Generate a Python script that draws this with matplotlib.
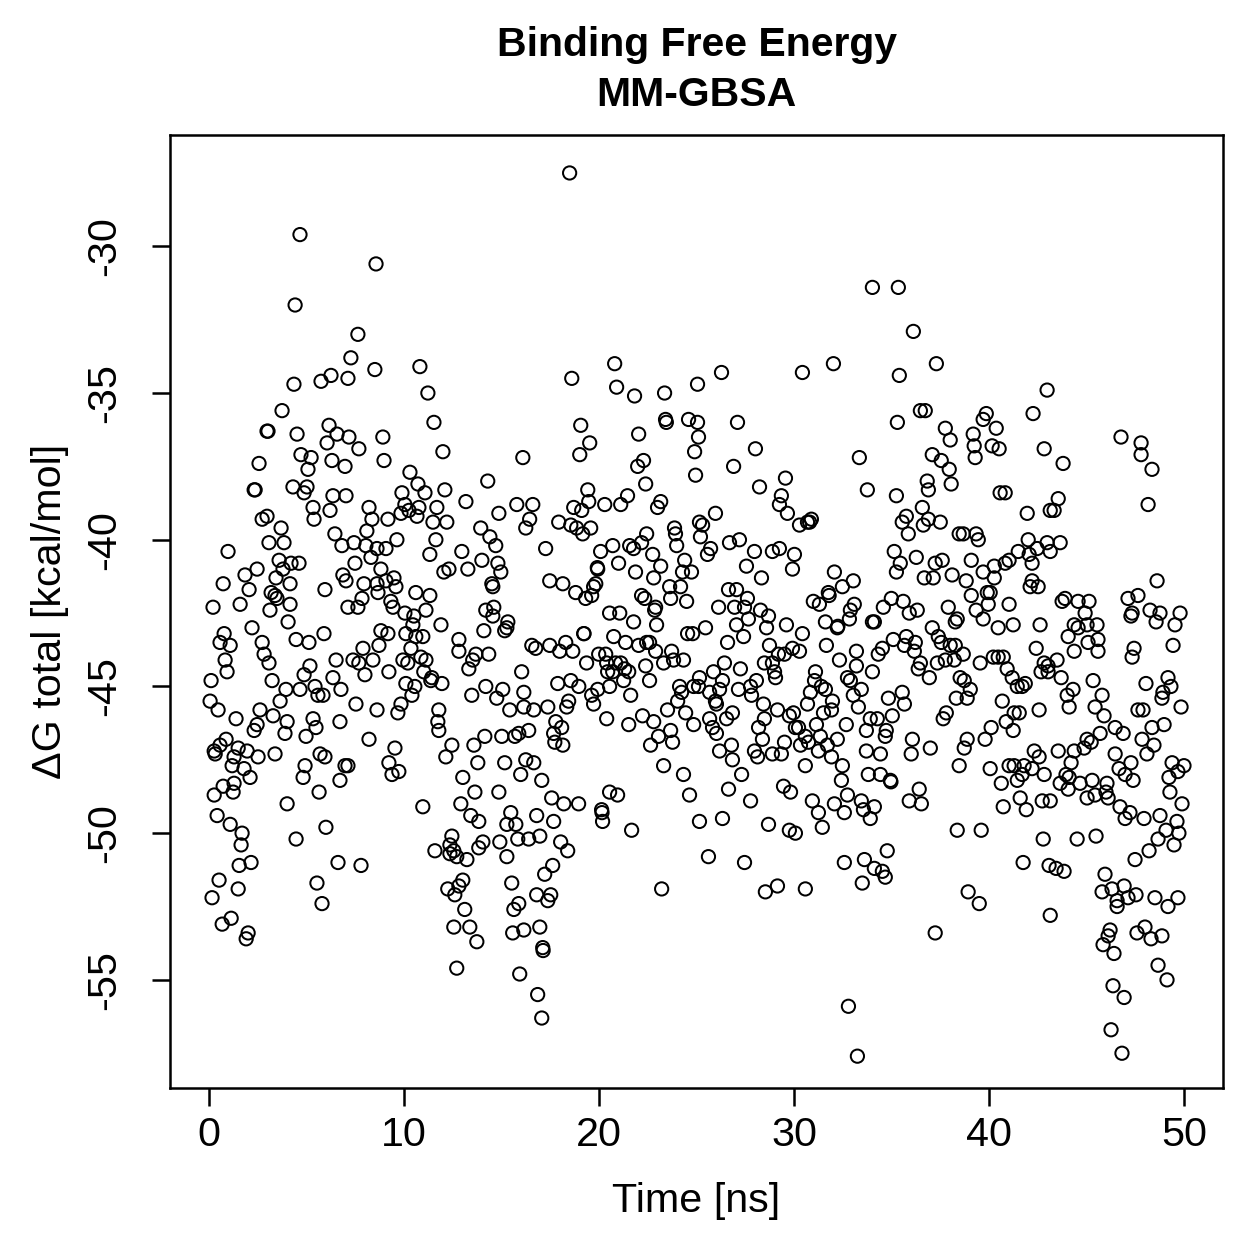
import sys
import matplotlib
matplotlib.use("Agg")
import matplotlib.pyplot as plt

plt.rcParams['font.family'] = ['Liberation Sans', 'DejaVu Sans']
plt.rcParams['axes.unicode_minus'] = False

# ---- data (time in ns, dG in kcal/mol), grouped by region ----
t_a_lo = [0.77,0.56,1.08,0.82,0.92,0.10,0.05,0.46,1.38,2.20,
          2.72,2.82,3.07,3.23,3.94,3.64,4.05,4.46,5.12,5.89,
          5.17,4.87,4.66,5.43,5.58,5.84,6.51,6.35,6.76,6.71,
          2.61,3.28,2.46,2.31,4.00,3.89,4.97,5.33,5.48,0.87,
          0.56,0.26,0.31,1.49,1.95,1.28,1.18,1.79,2.10,2.51,
          3.38,5.69,5.94,4.92,4.82,6.97,6.71,5.64,4.00,1.28,
          0.72,1.23,0.26,0.41,1.08,1.69,1.64,4.46,5.99,6.61,
          2.15,1.54,0.51,0.15,1.49,5.53,5.79,1.13,0.67,2.00,
          1.90]
g_a_lo = [-43.2,-43.5,-43.6,-44.1,-44.5,-44.8,-45.5,-45.8,-46.1,-43.0,
          -43.5,-43.9,-44.2,-44.8,-45.1,-45.5,-42.8,-43.4,-43.5,-43.2,
          -44.3,-44.6,-45.1,-45.0,-45.3,-45.3,-44.1,-44.7,-45.1,-46.2,
          -45.8,-46.0,-46.3,-46.5,-46.2,-46.6,-46.7,-46.1,-46.4,-46.8,
          -47.0,-47.2,-47.3,-47.1,-47.2,-47.4,-47.7,-47.8,-48.1,-47.4,
          -47.3,-47.3,-47.4,-47.7,-48.1,-47.7,-48.2,-48.6,-49.0,-48.3,
          -48.4,-48.6,-48.7,-49.4,-49.7,-50.0,-50.4,-50.2,-49.8,-51.0,
          -51.0,-51.1,-51.6,-52.2,-51.9,-51.7,-52.4,-52.9,-53.1,-53.4,
          -53.6]

t_a_hi = [4.66,4.41,4.35,5.74,6.25,7.12,7.27,3.74,6.15,2.97,
          3.02,4.51,6.56,6.05,7.17,2.56,4.71,5.23,6.30,5.07,
          6.97,2.36,2.31,4.30,5.02,4.87,6.35,7.02,5.33,6.20,
          2.97,2.72,5.38,3.69,6.45,6.81,3.84,3.07,0.97,3.59,
          4.61,4.20,2.46,3.79,1.84,3.43,6.86,7.02,0.72,2.05,
          4.15,5.94,3.18,3.48,3.38,4.15,1.59,0.20,3.12,7.12]
g_a_hi = [-29.6,-32.0,-34.7,-34.6,-34.4,-34.5,-33.8,-35.6,-36.1,-36.3,
          -36.3,-36.4,-36.4,-36.7,-36.5,-37.4,-37.1,-37.2,-37.3,-37.6,
          -37.5,-38.3,-38.3,-38.2,-38.2,-38.4,-38.5,-38.5,-38.9,-39.0,
          -39.2,-39.3,-39.3,-39.6,-39.8,-40.2,-40.1,-40.1,-40.4,-40.7,
          -40.8,-40.8,-41.0,-41.0,-41.2,-41.3,-41.2,-41.4,-41.5,-41.7,
          -41.5,-41.7,-41.8,-42.0,-41.9,-42.2,-42.2,-42.3,-42.4,-42.3]

t_b_hi = [8.56,7.63,8.50,10.81,11.22,11.53,11.99,7.68,8.91,8.97,
          16.09,10.30,10.71,11.07,9.89,12.09,14.29,13.17,15.78,14.86,
          8.20,8.35,9.17,10.04,9.84,10.25,10.76,10.66,11.68,11.48,
          12.19,13.93,14.40,14.70,16.24,8.09,7.43,8.04,8.61,9.07,
          9.63,11.63,11.32,12.96,13.99,13.27,14.81,14.96,12.30,12.04,
          8.30,7.48,8.81,7.94,8.61,9.07,9.48,9.58,8.66,7.84,
          10.60,11.32,14.50,14.55,9.32,9.43,7.63,11.12,10.04,14.19,
          14.60]
g_b_hi = [-30.6,-33.0,-34.2,-34.1,-35.0,-36.0,-37.0,-36.9,-36.5,-37.3,
          -37.2,-37.7,-38.1,-38.4,-38.4,-38.3,-38.0,-38.7,-38.8,-39.1,
          -38.9,-39.3,-39.3,-38.8,-39.1,-39.0,-38.9,-39.2,-38.9,-39.4,
          -39.4,-39.6,-39.9,-40.2,-39.6,-39.7,-40.1,-40.2,-40.3,-40.3,
          -40.0,-40.0,-40.5,-40.4,-40.7,-41.0,-40.8,-41.1,-41.0,-41.1,
          -40.6,-40.8,-41.0,-41.5,-41.5,-41.4,-41.3,-41.6,-41.8,-42.0,
          -41.8,-41.9,-41.5,-41.6,-42.1,-42.3,-42.3,-42.4,-42.5,-42.4,
          -42.3]

t_b_lo = [8.81,9.17,10.09,10.60,10.96,10.45,10.50,11.89,12.81,12.81,
          13.32,13.52,13.68,14.34,14.09,14.55,15.16,15.32,15.27,7.89,
          7.38,8.40,8.71,7.68,7.99,9.22,9.94,10.19,10.35,10.86,
          11.12,11.01,11.42,11.37,11.94,10.09,10.55,10.40,9.84,9.68,
          7.53,8.61,11.78,11.73,11.78,12.45,12.14,13.47,14.19,14.75,
          15.06,15.42,16.03,16.14,16.14,8.20,9.53,9.22,9.38,9.73,
          7.12,13.58,14.14,13.78,15.01,15.68,15.88,15.16,16.24,15.98,
          13.01,13.63,14.86,10.96,12.91,13.42,13.83,15.47,15.27,15.73,
          12.45,12.35,12.55,12.35,12.70,13.22,11.58,14.04,13.83,14.91,
          15.27,15.83,7.79,13.01,12.81,12.24,12.60,15.52,15.88,15.63,
          13.11,12.55,13.37,13.73,15.57,16.14,12.70,15.93]
g_b_lo = [-43.1,-43.2,-43.2,-43.3,-43.3,-42.9,-42.6,-42.9,-43.4,-43.8,
          -44.4,-44.1,-43.9,-43.9,-43.1,-42.6,-43.1,-42.8,-43.0,-43.7,
          -44.1,-44.1,-43.6,-44.2,-44.6,-44.5,-44.1,-44.2,-43.7,-44.0,
          -44.1,-44.5,-44.7,-44.8,-44.9,-44.9,-45.0,-45.3,-45.6,-45.9,
          -45.6,-45.8,-45.8,-46.2,-46.5,-47.0,-47.4,-45.3,-45.0,-45.4,
          -45.1,-45.8,-44.5,-45.2,-45.7,-46.8,-47.1,-47.6,-48.0,-47.9,
          -47.7,-47.0,-46.7,-47.6,-46.7,-46.7,-46.6,-47.6,-47.5,-48.0,
          -48.1,-48.6,-48.6,-49.1,-49.0,-49.4,-49.6,-49.3,-49.7,-49.7,
          -50.1,-50.4,-50.6,-50.7,-50.8,-50.9,-50.6,-50.3,-50.5,-50.3,
          -50.8,-50.2,-51.1,-51.6,-51.8,-51.9,-52.1,-51.7,-52.4,-52.6,
          -52.6,-53.2,-53.2,-53.7,-53.4,-53.3,-54.6,-54.8]

t_c_hi = [18.49,20.80,18.60,20.90,21.82,23.36,25.05,19.06,19.52,19.01,
          22.03,22.28,21.98,22.39,23.41,23.45,24.59,25.05,25.10,24.90,
          24.95,19.42,19.47,18.70,19.11,20.29,21.11,21.46,23.16,23.00,
          16.60,16.44,17.93,18.55,18.85,19.16,19.57,17.26,20.08,20.70,
          21.57,21.77,22.18,22.44,23.87,23.92,23.98,25.15,25.20,19.93,
          19.91,21.00,21.87,22.75,23.16,22.80,24.39,24.28,24.74,17.47,
          18.14,18.80,19.31,19.72,19.83,19.62,22.18,22.34,22.90,23.62,
          24.18,23.67,24.49,20.54,21.06]
g_c_hi = [-27.5,-34.0,-34.5,-34.8,-35.1,-35.0,-34.7,-36.1,-36.7,-37.1,
          -36.4,-37.3,-37.5,-38.1,-35.9,-36.0,-35.9,-36.0,-36.5,-37.0,
          -37.8,-38.3,-38.7,-38.9,-39.0,-38.8,-38.8,-38.5,-38.7,-38.9,
          -38.8,-39.3,-39.4,-39.5,-39.6,-39.8,-39.6,-40.3,-40.4,-40.2,
          -40.2,-40.3,-40.1,-39.8,-39.6,-39.8,-40.2,-39.4,-39.9,-41.0,
          -40.95,-40.8,-41.1,-40.5,-40.9,-41.3,-40.7,-41.1,-41.1,-41.4,
          -41.5,-41.8,-42.0,-41.6,-41.5,-41.9,-41.9,-42.0,-42.3,-41.6,
          -41.6,-42.0,-42.1,-42.5,-42.5]

t_c_lo = [21.77,22.95,22.85,19.21,19.23,24.54,24.80,16.55,16.75,17.47,
          17.98,18.29,18.65,19.36,19.98,20.34,20.75,21.36,22.03,22.44,
          22.59,22.90,23.31,23.72,23.82,24.33,20.39,20.44,20.85,21.11,
          20.70,21.31,21.52,21.26,22.39,22.59,17.88,18.55,18.96,19.93,
          20.54,19.62,19.72,21.62,24.13,24.23,24.03,24.85,25.15,16.65,
          17.37,18.34,18.44,17.78,18.08,17.67,17.73,18.14,16.39,20.39,
          21.52,22.23,22.80,23.51,24.44,24.85,22.64,23.05,23.67,23.77,
          23.31,24.33,24.64,25.15,16.65,17.06,17.57,18.19,18.95,20.54,
          20.95,20.13,20.18,20.15,21.67,16.80,17.67,16.96,16.39,18.03,
          18.39,17.62,17.21,16.80,17.52,17.37,16.96,17.11,17.13,16.85,
          17.06,23.21]
g_c_lo = [-42.8,-42.9,-42.4,-43.2,-43.2,-43.2,-43.2,-43.6,-43.7,-43.6,
          -43.8,-43.5,-43.8,-44.2,-43.9,-43.9,-43.3,-43.5,-43.6,-43.5,
          -43.5,-43.8,-44.2,-43.8,-44.1,-44.1,-44.2,-44.5,-44.2,-44.2,
          -44.5,-44.4,-44.5,-44.8,-44.3,-44.8,-44.9,-44.8,-45.0,-45.1,
          -45.0,-45.3,-45.6,-45.3,-45.0,-45.2,-45.5,-45.0,-44.7,-45.8,
          -45.7,-45.7,-45.5,-46.2,-46.4,-46.6,-46.9,-47.0,-46.5,-46.1,
          -46.3,-46.0,-46.2,-45.8,-45.9,-46.3,-47.0,-46.7,-46.5,-46.9,
          -47.7,-48.0,-48.7,-49.6,-47.6,-48.2,-48.8,-49.0,-49.0,-48.6,
          -48.7,-49.2,-49.6,-49.3,-49.9,-49.4,-49.6,-50.1,-50.2,-50.3,
          -50.6,-51.1,-51.4,-52.1,-52.1,-52.3,-53.2,-53.9,-54.0,-55.5,
          -56.3,-51.9]

t_d_hi = [34.02,26.28,30.43,32.02,27.10,28.02,26.90,33.35,28.23,29.56,
          33.76,29.35,29.25,29.66,25.97,25.31,30.28,30.69,30.89,30.80,
          26.69,27.20,27.97,28.89,29.25,30.02,29.92,25.72,25.56,27.56,
          28.33,32.07,33.04,32.48,26.64,27.05,27.61,31.76,31.80,30.99,
          31.30,26.13,26.95,27.46,28.28,33.09,32.89]
g_d_hi = [-31.4,-34.3,-34.3,-34.0,-36.0,-36.9,-37.5,-37.2,-38.2,-37.9,
          -38.3,-38.5,-38.8,-39.1,-39.1,-39.5,-39.5,-39.4,-39.3,-39.4,
          -40.1,-40.0,-40.4,-40.4,-40.3,-40.5,-41.0,-40.3,-40.5,-40.9,
          -41.3,-41.1,-41.4,-41.6,-41.7,-41.7,-42.0,-41.8,-41.9,-42.1,
          -42.2,-42.3,-42.3,-42.3,-42.4,-42.2,-42.4]

t_d_lo = [25.46,26.59,27.05,27.41,27.66,28.59,28.69,29.61,30.43,31.61,
          32.22,32.25,32.84,34.02,31.66,32.33,33.20,33.20,34.02,28.74,
          29.20,29.51,29.92,30.28,27.25,28.48,28.89,29.00,29.05,26.43,
          25.87,25.10,25.67,26.18,26.33,25.97,26.02,27.15,27.77,27.82,
          28.07,28.43,29.15,28.48,29.76,29.97,30.23,30.69,30.84,31.10,
          31.05,31.40,31.61,31.97,31.92,31.51,31.15,30.07,30.58,28.18,
          28.38,29.51,29.35,28.89,27.97,28.13,30.33,30.74,31.35,31.71,
          31.25,31.92,32.22,32.68,32.74,32.89,33.04,33.30,33.45,33.71,
          33.91,33.71,33.81,32.48,32.43,32.74,32.58,32.07,33.45,33.56,
          33.91,34.12,25.67,25.82,26.02,26.54,26.84,26.18,26.79,26.84,
          27.31,26.64,27.77,29.46,29.82,30.58,30.94,31.25,31.45,28.69,
          29.76,30.07,26.33,25.61,27.46,28.53,29.15,30.58,32.58,33.61,
          34.12,33.50,32.79,33.25]
g_d_lo = [-43.0,-43.5,-42.9,-43.3,-42.7,-43.0,-42.6,-42.9,-43.2,-42.8,
          -43.0,-42.95,-42.7,-42.8,-43.6,-44.1,-43.8,-44.3,-44.5,-43.6,
          -43.9,-43.9,-43.7,-43.8,-44.4,-44.2,-44.2,-44.5,-44.7,-44.2,
          -44.5,-45.0,-45.2,-45.1,-44.8,-45.5,-45.6,-45.1,-45.0,-45.3,
          -44.8,-45.6,-45.8,-46.1,-46.0,-45.9,-46.4,-45.6,-45.2,-44.5,
          -44.8,-45.0,-45.1,-45.5,-45.8,-45.9,-46.3,-46.4,-46.7,-46.4,
          -46.8,-46.9,-47.3,-47.3,-47.2,-47.4,-47.0,-46.9,-46.7,-47.0,
          -47.2,-47.4,-46.8,-46.3,-44.7,-44.8,-45.3,-45.7,-45.1,-46.5,
          -46.1,-47.2,-48.0,-47.7,-48.2,-48.7,-49.3,-49.0,-48.9,-49.2,
          -49.5,-49.1,-46.1,-46.4,-46.6,-46.1,-45.9,-47.2,-47.0,-47.5,
          -48.0,-48.5,-48.9,-48.4,-48.6,-47.7,-48.9,-49.3,-49.8,-49.7,
          -49.9,-50.0,-49.5,-50.8,-51.0,-52.0,-51.8,-51.9,-51.0,-50.9,
          -51.2,-51.7,-55.9,-57.6]

t_e_hi = [35.35,36.12,37.30,35.40,42.98,36.48,36.73,42.26,35.30,39.86,
          39.70,40.37,37.76,38.01,39.19,39.24,39.29,40.16,40.52,42.83,
          37.09,37.55,37.96,38.06,36.83,36.89,35.25,36.58,35.76,35.55,
          35.86,36.89,36.63,37.50,38.47,38.68,39.34,39.45,40.57,40.83,
          41.96,43.14,35.14,35.45,35.25,36.27,37.24,37.60,36.68,37.14,
          38.11,39.09,38.83,39.70,40.27,40.27,40.83,41.03,41.50,42.01,
          42.06,42.21,42.47,42.98,43.14,42.21,42.11,42.52,39.09,39.91,
          40.06,39.96,41.03,34.99,34.58,35.60,36.32,35.91,37.91,39.34]
g_e_hi = [-31.4,-32.9,-34.0,-34.4,-34.9,-35.6,-35.6,-35.7,-36.0,-35.7,
          -35.9,-36.2,-36.2,-36.6,-36.4,-36.8,-37.2,-36.8,-36.9,-36.9,
          -37.1,-37.3,-37.6,-38.1,-38.0,-38.3,-38.5,-38.9,-39.2,-39.4,
          -39.8,-39.3,-39.5,-39.4,-39.8,-39.8,-39.8,-40.0,-38.4,-38.4,
          -39.1,-39.0,-40.4,-40.8,-41.1,-40.6,-40.8,-40.7,-41.3,-41.3,
          -41.2,-40.7,-41.4,-41.1,-40.9,-41.3,-40.8,-40.7,-40.4,-40.0,
          -40.5,-40.8,-40.3,-40.1,-40.4,-41.4,-41.6,-41.6,-41.9,-41.8,
          -41.8,-42.2,-42.2,-42.0,-42.3,-42.1,-42.4,-42.5,-42.3,-42.4]

t_e_lo = [34.12,37.09,38.27,38.37,39.70,40.47,41.24,42.62,35.09,35.76,
          35.66,36.22,36.17,34.32,34.53,36.48,36.37,36.94,37.40,37.55,
          38.01,38.27,38.68,37.35,37.76,38.22,39.55,40.22,40.47,40.73,
          40.93,41.19,41.45,41.70,41.86,42.42,42.83,42.67,38.52,38.73,
          39.04,38.88,38.32,40.68,34.84,35.55,35.66,35.04,34.27,37.81,
          37.65,40.11,39.80,40.88,41.24,41.29,41.55,42.57,34.73,34.68,
          36.07,36.01,36.99,34.43,38.88,38.73,38.47,40.06,40.63,41.03,
          41.29,41.80,42.21,42.32,42.57,42.83,41.45,41.70,34.43,34.94,
          34.97,36.42,35.91,36.53,40.73,41.60,41.91,42.73,43.14,38.37,
          39.60,42.78,34.78,34.53,34.68,41.75,43.08,38.93,39.50,43.14,
          37.24]
g_e_lo = [-42.8,-43.0,-42.8,-42.7,-42.7,-43.0,-42.9,-42.9,-43.4,-43.3,
          -43.6,-43.5,-43.8,-43.9,-43.7,-44.2,-44.4,-44.7,-43.3,-43.5,
          -43.6,-43.6,-43.9,-44.2,-44.1,-44.1,-44.2,-44.0,-44.0,-44.0,
          -44.4,-44.7,-45.0,-45.0,-44.9,-43.7,-44.2,-44.5,-44.7,-44.8,
          -45.1,-45.4,-45.4,-45.5,-45.4,-45.2,-45.6,-46.0,-46.1,-45.9,
          -46.1,-46.4,-46.8,-46.2,-46.5,-45.9,-45.9,-45.8,-46.5,-46.7,
          -46.8,-47.3,-47.1,-47.3,-46.8,-47.1,-47.7,-47.8,-48.3,-47.7,
          -47.7,-47.7,-47.8,-47.2,-47.4,-48.0,-48.2,-48.0,-48.0,-48.2,
          -48.25,-48.5,-48.9,-49.0,-49.1,-48.8,-49.2,-48.9,-48.9,-49.9,
          -49.9,-50.2,-50.6,-51.3,-51.5,-51.0,-51.1,-52.0,-52.4,-52.8,
          -53.4]

t_f_hi = [46.77,47.80,47.80,48.36,43.80,43.55,43.34,48.16,43.65,48.62,
          43.90,43.75,44.57,45.13,47.13,47.64,44.93,47.34,48.26,48.77,
          49.80]
g_f_hi = [-36.5,-36.7,-37.1,-37.6,-37.4,-38.6,-39.0,-38.8,-40.1,-41.4,
          -42.0,-42.1,-42.1,-42.1,-42.0,-41.9,-42.5,-42.5,-42.4,-42.5,
          -42.5]

t_f_lo = [44.37,44.57,45.03,45.54,44.06,45.08,45.59,44.37,45.59,47.28,
          48.57,49.54,49.44,47.44,47.34,43.49,43.03,43.03,43.70,45.34,
          44.31,44.01,44.11,45.80,45.44,45.90,48.05,49.18,49.33,48.92,
          48.87,49.85,47.64,47.90,48.36,48.98,46.47,46.88,45.70,45.24,
          45.03,44.88,44.37,44.21,43.55,47.85,48.46,48.10,46.47,47.28,
          46.67,46.98,47.39,49.39,50.00,49.69,49.23,49.28,49.90,43.95,
          44.11,43.65,44.06,44.67,45.29,46.05,46.00,46.11,45.44,45.03,
          46.72,47.23,46.98,47.95,48.77,49.64,49.08,48.67,49.74,49.49,
          48.21,47.49,44.52,45.49,43.44,43.85,45.95,45.80,46.31,46.93,
          47.13,47.54,46.57,46.57,48.51,49.18,49.69,46.21,46.11,45.85,
          46.41,47.59,48.00,48.31,48.87,48.67,49.13,46.36,46.93,46.26,
          46.82]
g_f_lo = [-42.9,-43.0,-42.9,-42.9,-43.3,-43.5,-43.4,-43.8,-43.8,-42.6,
          -42.8,-42.9,-43.6,-43.7,-44.0,-44.1,-44.3,-44.5,-44.7,-44.8,
          -45.1,-45.3,-45.7,-45.3,-45.7,-46.0,-44.9,-44.7,-45.0,-45.2,
          -45.4,-45.7,-45.8,-45.8,-46.4,-46.3,-46.4,-46.6,-46.6,-46.9,
          -46.8,-47.1,-47.2,-47.6,-47.2,-46.8,-47.0,-47.3,-47.3,-47.6,
          -47.8,-48.0,-48.2,-47.6,-47.7,-47.9,-48.1,-48.6,-49.0,-48.0,
          -48.1,-48.3,-48.5,-48.3,-48.2,-48.3,-48.6,-48.8,-48.7,-48.8,
          -49.1,-49.3,-49.5,-49.5,-49.4,-49.6,-49.9,-50.2,-50.0,-50.4,
          -50.6,-50.9,-50.2,-50.1,-51.2,-51.3,-51.4,-52.0,-51.9,-51.8,
          -52.2,-52.1,-52.3,-52.5,-52.2,-52.5,-52.2,-53.3,-53.5,-53.8,
          -54.1,-53.4,-53.2,-53.6,-53.5,-54.5,-55.0,-55.2,-55.6,-56.7,
          -57.5]

x_ticks = [0, 10, 20, 30, 40, 50]
y_ticks = [-55, -50, -45, -40, -35, -30]

groups = [(t_a_lo, g_a_lo), (t_a_hi, g_a_hi), (t_b_hi, g_b_hi), (t_b_lo, g_b_lo),
          (t_c_hi, g_c_hi), (t_c_lo, g_c_lo), (t_d_hi, g_d_hi), (t_d_lo, g_d_lo),
          (t_e_hi, g_e_hi), (t_e_lo, g_e_lo), (t_f_hi, g_f_hi), (t_f_lo, g_f_lo)]

time_ns, dG = [], []
for i, (t, g) in enumerate(groups):
    if len(t) != len(g):
        print("length mismatch in group", i, len(t), len(g), file=sys.stderr)
    n = min(len(t), len(g))
    time_ns.extend(t[:n])
    dG.extend(g[:n])

W = H = 1259
FS = 16.5
fig = plt.figure(figsize=(7, 7), dpi=180)
ax = fig.add_axes([170 / W, 1 - 1087 / H, (1222 - 170) / W, (1087 - 135) / H])

ax.scatter(time_ns, dG, s=28, facecolors='none', edgecolors='black', linewidths=0.8)

ax.set_xlim(-2, 52)
ax.set_ylim(-58.68, -26.21)
ax.set_xticks(x_ticks)
ax.set_yticks(y_ticks)
ax.set_xticklabels([str(v) for v in x_ticks])
ax.set_yticklabels([str(v) for v in y_ticks], rotation=90, va='center')

for sp in ax.spines.values():
    sp.set_linewidth(1.0)
ax.tick_params(direction='out', length=7.2, width=1.0, labelsize=FS, pad=4, colors='black')
ax.tick_params(axis='y', pad=11.5)

ax.set_xlabel('Time [ns]', fontsize=FS)
ax.set_ylabel('\u0394G total [kcal/mol]', fontsize=FS)
ax.xaxis.set_label_coords(0.5, (1087 - 1200) / 952)
ax.xaxis.label.set_va('center')
ax.yaxis.set_label_coords((50 - 170) / 1052, 0.5)
ax.yaxis.label.set_va('center')

cx = 696 / W
fig.text(cx, 1 - 45 / H, 'Binding Free Energy', ha='center', va='center',
         fontsize=16.4, fontweight='bold')
fig.text(cx, 1 - 95 / H, 'MM-GBSA', ha='center', va='center',
         fontsize=16.4, fontweight='bold')

fig.savefig('out.png', dpi=180)
